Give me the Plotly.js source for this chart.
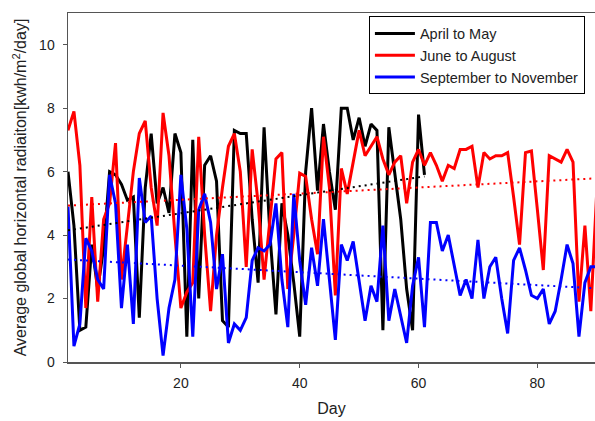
<!DOCTYPE html>
<html>
<head>
<meta charset="utf-8">
<script src="https://cdn.plot.ly/plotly-3.0.1.min.js"></script>
<style>html,body{margin:0;padding:0;background:#fff;}#chart{width:595px;height:421px;}</style>
</head>
<body>
<div id="chart"></div>
<script>
// Series names
const seriesNames = ["April to May", "June to August", "September to November"];

// April to May (days 1..61)
const aprMay = [6.0,4.3,1.0,1.1,3.7,2.3,3.6,6.0,5.9,5.6,
  5.1,5.2,1.4,5.5,7.2,5.0,5.5,4.7,7.2,6.6,
  0.8,7.0,2.0,6.2,6.5,5.7,1.3,1.1,7.3,7.2,
  7.2,4.5,2.5,7.4,4.0,1.5,5.0,4.0,2.5,0.8,
  6.0,8.0,5.4,7.5,6.0,4.8,8.0,8.0,7.0,7.7,
  6.8,7.5,7.3,1.0,7.4,6.0,4.5,2.3,1.0,7.8,5.9];

// June to August (days 1..90)
const junAug = [7.3,7.9,6.2,1.7,5.2,1.9,4.5,5.0,6.9,2.6,
  4.3,6.0,7.2,7.6,5.5,4.3,7.85,6.5,4.0,1.7,
  2.2,2.5,7.1,4.0,1.6,4.0,5.5,6.8,7.2,6.0,
  3.0,6.7,5.0,2.6,4.5,6.4,6.6,2.3,4.0,5.95,
  5.85,4.5,3.4,7.1,5.5,2.1,6.1,5.3,6.3,7.3,
  6.5,6.8,7.1,6.4,5.9,6.3,6.5,5.0,6.3,6.7,
  6.2,6.6,6.2,5.7,6.2,6.1,6.7,6.7,6.8,5.5,
  6.6,6.4,6.5,6.5,6.6,5.2,3.7,6.6,6.65,4.8,
  2.9,6.5,6.4,6.3,6.7,6.3,1.9,4.3,1.6,5.4];

// September to November (days 1..90)
const sepNov = [4.9,0.5,1.2,3.9,3.5,2.6,2.3,5.9,5.0,1.7,
  3.7,1.2,5.8,4.4,4.6,2.0,0.2,1.7,2.6,5.9,
  4.2,0.8,4.8,5.3,4.4,2.3,3.4,0.6,1.2,1.0,
  1.4,3.2,3.6,3.5,3.7,5.0,2.6,1.1,5.3,3.2,
  1.8,3.6,2.4,4.5,2.6,0.7,3.7,3.2,3.8,2.5,
  1.3,2.4,1.9,4.3,1.3,2.3,1.5,0.6,2.4,3.3,
  1.1,4.4,4.4,3.5,4.0,3.0,2.1,2.6,2.0,3.85,
  2.0,3.0,3.3,2.0,0.9,3.2,3.6,2.9,2.1,2.0,
  2.3,1.2,1.6,2.6,3.7,3.1,0.8,2.5,3.0,3.0];

// Linear trend lines (end points)
const trendAprMayDays = [1, 61];
const trendAprMay = [4.15, 5.85];
const trendJunAugDays = [1, 90];
const trendJunAug = [4.93, 5.79];
const trendSepNovDays = [1, 90];
const trendSepNov = [3.23, 2.32];

// Axis ticks
const xTicks = [20, 40, 60, 80];
const yTicks = [0, 2, 4, 6, 8, 10];

const days = n => Array.from({length: n}, (_, i) => i + 1);
const colors = ["#000000", "#ff0000", "#0000ff"];

const traces = [];
[aprMay, junAug, sepNov].forEach((s, i) => {
  traces.push({x: days(s.length), y: s, type: 'scatter', mode: 'lines', name: seriesNames[i],
    line: {color: colors[i], width: 3}, showlegend: true});
});
[[trendAprMayDays, trendAprMay], [trendJunAugDays, trendJunAug], [trendSepNovDays, trendSepNov]].forEach((t, i) => {
  traces.push({x: t[0], y: t[1], type: 'scatter', mode: 'lines', showlegend: false, hoverinfo: 'skip',
    line: {color: colors[i], width: 2, dash: '2px,4px'}});
});

const fam = 'Liberation Sans, Arial, sans-serif';
const layout = {
  width: 595, height: 421,
  margin: {l: 68, r: 0, t: 13, b: 59, pad: 0},
  paper_bgcolor: '#fff', plot_bgcolor: '#fff',
  font: {family: fam, size: 14, color: '#222'},
  showlegend: true,
  legend: {x: 0.571, y: 0.99, xanchor: 'left', yanchor: 'top', bgcolor: '#fff',
    bordercolor: '#000', borderwidth: 1, font: {family: fam, size: 14.5, color: '#222'},
    itemwidth: 40, tracegroupgap: 0},
  xaxis: {range: [1, 89.7], tickvals: xTicks, ticks: 'outside', ticklen: 4, tickcolor: '#555',
    showline: true, linecolor: '#555', linewidth: 1.5, mirror: true, showgrid: false, zeroline: false,
    tickfont: {family: fam, size: 14, color: '#222'}, ticklabelstandoff: 4,
    title: {text: 'Day', font: {family: fam, size: 16, color: '#222'}, standoff: 12}},
  yaxis: {range: [0, 11], tickvals: yTicks, ticks: 'outside', ticklen: 4, tickcolor: '#555',
    showline: true, linecolor: '#555', linewidth: 1.5, showgrid: false, zeroline: false,
    tickfont: {family: fam, size: 14, color: '#222'}, ticklabelstandoff: 5,
    title: {text: 'Average global horizontal radiaiton[kwh/m<sup>2</sup>/day]', font: {family: fam, size: 16, color: '#222'}, standoff: 8}}
};
Plotly.newPlot('chart', traces, layout, {staticPlot: true, displayModeBar: false});
</script>
</body>
</html>
